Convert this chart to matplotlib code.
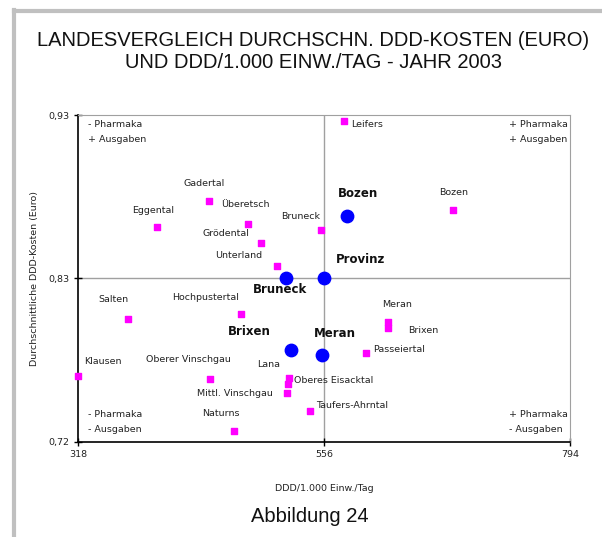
import matplotlib.pyplot as plt
from matplotlib.lines import Line2D

plt.rcParams['font.family'] = ['DejaVu Sans']

# Sprengel (magenta)
spr_names = ['Eggental', 'Gadertal', 'Überetsch', 'Grödental', 'Unterland', 'Bruneck',
             'Leifers', 'Bozen', 'Salten', 'Hochpustertal', 'Klausen', 'Oberer Vinschgau',
             'Lana', 'Oberes Eisacktal', 'Mittl. Vinschgau', 'Taufers-Ahrntal', 'Naturns',
             'Meran', 'Brixen', 'Passeiertal']
spr_x = [394, 445, 482, 495, 511, 553, 575, 681, 366, 476, 318, 446,
         521, 522, 520, 542, 469, 618, 618, 597]
spr_y = [0.858, 0.875, 0.860, 0.848, 0.833, 0.856, 0.926, 0.869, 0.799, 0.802, 0.762, 0.760,
         0.757, 0.761, 0.751, 0.740, 0.727, 0.797, 0.793, 0.777]

# Gesundheitsbezirke + Provinz (blau)
bez_names = ['Bozen', 'Provinz', 'Bruneck', 'Brixen', 'Meran']
bez_x = [578, 556, 519, 524, 554]
bez_y = [0.865, 0.825, 0.825, 0.779, 0.776]

x_min, x_max = 318, 794
y_min, y_max = 0.72, 0.93
x_mid = bez_x[1]
y_mid = bez_y[1]

# label offsets in pixels (dx, dy, ha)
spr_off = [(-3, 17, 'center'), (-5, 17, 'center'), (-2, 19, 'center'), (-35, 9, 'center'),
           (-39, 10, 'center'), (-20, 14, 'center'), (7, -3, 'left'), (0, 17, 'center'),
           (-14, 19, 'center'), (-36, 17, 'center'), (6, 15, 'left'), (-22, 20, 'center'),
           (-19, 20, 'center'), (5, -3, 'left'), (-14, 0, 'right'), (7, 5, 'left'),
           (-13, 17, 'center'), (9, 17, 'center'), (20, -2, 'left'), (7, 4, 'left')]
bez_off = [(11, 23), (37, 19), (-6, -11), (-42, 18), (13, 21)]

fig = plt.figure(figsize=(6.02, 5.37), dpi=100)
ax = fig.add_axes([78 / 602, 1 - 441.7 / 537, 492 / 602, 326.7 / 537])

ax.axvline(x_mid, color='#a0a0a0', lw=1, zorder=1)
ax.axhline(y_mid, color='#a0a0a0', lw=1, zorder=1)

ax.scatter(spr_x, spr_y, marker='s', s=22, color='#ff00ff', zorder=3, clip_on=False)
ax.scatter(bez_x, bez_y, marker='o', s=80, color='#0000ff', zorder=4, clip_on=False)

for n, x, y, (dx, dy, ha) in zip(spr_names, spr_x, spr_y, spr_off):
    ax.annotate(n, (x, y), xytext=(dx, dy), textcoords='offset pixels',
                ha=ha, va='center', fontsize=6.8, color='#222222')
for n, x, y, (dx, dy) in zip(bez_names, bez_x, bez_y, bez_off):
    ax.annotate(n, (x, y), xytext=(dx, dy), textcoords='offset pixels',
                ha='center', va='center', fontsize=8.5, fontweight='bold', color='#111111')

# Quadranten-Beschriftung
qs = dict(fontsize=6.8, color='#222222', transform=ax.transAxes, va='center', ha='left')
ax.text(0.02, 0.97, '- Pharmaka', **qs)
ax.text(0.02, 0.925, '+ Ausgaben', **qs)
ax.text(0.877, 0.97, '+ Pharmaka', **qs)
ax.text(0.877, 0.925, '+ Ausgaben', **qs)
ax.text(0.02, 0.083, '- Pharmaka', **qs)
ax.text(0.02, 0.038, '- Ausgaben', **qs)
ax.text(0.877, 0.083, '+ Pharmaka', **qs)
ax.text(0.877, 0.038, '- Ausgaben', **qs)

ax.set_xlim(x_min, x_max)
ax.set_ylim(y_min, y_max)
ax.set_xticks([x_min, x_mid, x_max])
ax.set_xticklabels([str(v) for v in [x_min, x_mid, x_max]])
ax.set_yticks([y_min, y_mid, y_max])
ax.set_yticklabels([f'{v:.2f}'.replace('.', ',') for v in [y_min, y_mid + 0.001, y_max]])
ax.tick_params(direction='inout', length=6, width=1, labelsize=6.8, colors='black',
               labelcolor='#222222', pad=3)
for s in ['top', 'right']:
    ax.spines[s].set_color('#a0a0a0')
for s in ['left', 'bottom']:
    ax.spines[s].set_color('black')
    ax.spines[s].set_linewidth(1.2)

ax.set_xlabel('DDD/1.000 Einw./Tag', fontsize=6.8, color='#222222', labelpad=18)
ax.set_ylabel('Durchschnittliche DDD-Kosten (Euro)', fontsize=6.8, color='#222222', labelpad=7)

fig.text(0.52, 1 - 40 / 537, 'LANDESVERGLEICH DURCHSCHN. DDD-KOSTEN (EURO)',
         ha='center', va='center', fontsize=14.5, family='Liberation Sans', color='#111111')
fig.text(0.52, 1 - 63 / 537, 'UND DDD/1.000 EINW./TAG - JAHR 2003',
         ha='center', va='center', fontsize=14.5, family='Liberation Sans', color='#111111')
fig.text(0.515, 1 - 516 / 537, 'Abbildung 24', ha='center', va='center',
         fontsize=14.5, family='Liberation Sans', color='#111111')

# grauer Rahmen oben und links
fig.add_artist(Line2D([14 / 602, 14 / 602], [0, 1 - 10 / 537], color='#c0c0c0', lw=3))
fig.add_artist(Line2D([14 / 602, 1], [1 - 10.5 / 537, 1 - 10.5 / 537], color='#c0c0c0', lw=3))

plt.savefig('out.png', dpi=100)
